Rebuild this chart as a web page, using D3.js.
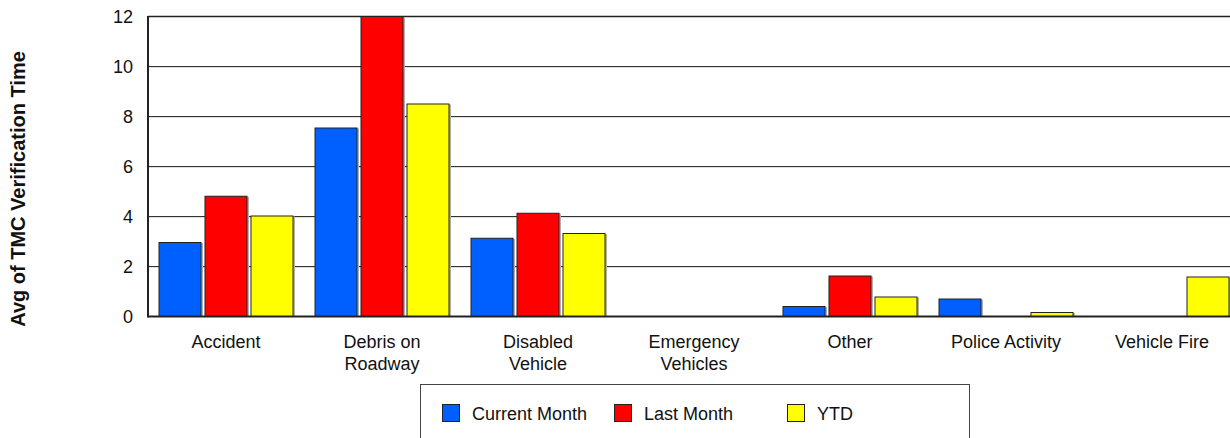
<!DOCTYPE html>
<html>
<head>
<meta charset="utf-8">
<script src="https://cdn.jsdelivr.net/npm/d3@7"></script>
<style>
  body { margin: 0; background: #fff; }
  svg { font-family: "Liberation Sans", Arial, sans-serif; display: block; }
</style>
</head>
<body>
<div id="chart"></div>
<script>
// donnees
const categories = [
    ['Accident'], ['Debris on', 'Roadway'], ['Disabled', 'Vehicle'],
    ['Emergency', 'Vehicles'], ['Other'], ['Police Activity'], ['Vehicle Fire']
];
const series = ['Current Month', 'Last Month', 'YTD'];
const currentMonth = [2.96, 7.54, 3.13, 0, 0.40, 0.70, 0];
const lastMonth = [4.81, 12, 4.13, 0, 1.62, 0, 0];
const ytd = [4.02, 8.5, 3.32, 0, 0.78, 0.16, 1.58];
const yTicks = [0, 2, 4, 6, 8, 10, 12];

const colors = ['#0060ff', '#ff0000', '#ffff00'];
const values = [currentMonth, lastMonth, ytd];

const width = 1230, height = 438;
const plot = { left: 148, right: 1240, top: 16, bottom: 316 };

const svg = d3.select('#chart').append('svg')
    .attr('width', width)
    .attr('height', height);

const keys = categories.map(c => c.join(' '));

const x0 = d3.scaleBand()
    .domain(keys)
    .range([plot.left, plot.right]);

const x1 = d3.scaleBand()
    .domain(series)
    .range([10.5, x0.bandwidth() - 10.5])
    .paddingInner(0.065);

const y = d3.scaleLinear()
    .domain([0, 12])
    .range([plot.bottom, plot.top]);

// lignes de la grille
const grid = svg.append('g');
grid.selectAll('line.shadow')
    .data(yTicks.filter(t => t > 0 && t < 12))
    .enter().append('line')
    .attr('x1', plot.left).attr('x2', width)
    .attr('y1', d => y(d) + 1).attr('y2', d => y(d) + 1)
    .attr('stroke', '#c0c0c0').attr('stroke-width', 1);
grid.selectAll('line.main')
    .data(yTicks.filter(t => t > 0))
    .enter().append('line')
    .attr('x1', plot.left).attr('x2', width)
    .attr('y1', d => y(d) + 0.5).attr('y2', d => y(d) + 0.5)
    .attr('stroke', d => d === 12 ? '#222' : '#333')
    .attr('stroke-width', d => d === 12 ? 1.5 : 1);

// barres
const groups = svg.append('g')
    .selectAll('g')
    .data(keys)
    .enter().append('g')
    .attr('transform', d => `translate(${x0(d)},0)`);

groups.selectAll('rect.shadow')
    .data((d, i) => series.map((s, j) => ({ s, v: values[j][i] })))
    .enter().append('rect')
    .filter(d => d.v > 0)
    .attr('x', d => x1(d.s) + 1.5)
    .attr('y', d => y(d.v) + 1)
    .attr('width', x1.bandwidth())
    .attr('height', d => y(0) - y(d.v) - 1)
    .attr('fill', '#b0b0b0');

groups.selectAll('rect.bar')
    .data((d, i) => series.map((s, j) => ({ s, v: values[j][i], c: colors[j] })))
    .enter().append('rect')
    .filter(d => d.v > 0)
    .attr('x', d => x1(d.s) + 0.5)
    .attr('y', d => y(d.v) + 0.5)
    .attr('width', x1.bandwidth() - 1)
    .attr('height', d => y(0) - y(d.v))
    .attr('fill', d => d.c)
    .attr('stroke', '#222')
    .attr('stroke-width', 1);

// axes
svg.append('line')
    .attr('x1', plot.left).attr('x2', width)
    .attr('y1', plot.bottom + 0.5).attr('y2', plot.bottom + 0.5)
    .attr('stroke', '#222').attr('stroke-width', 2);
svg.append('line')
    .attr('x1', plot.left).attr('x2', plot.left)
    .attr('y1', plot.top).attr('y2', plot.bottom + 1.5)
    .attr('stroke', '#222').attr('stroke-width', 2);

svg.append('g')
    .selectAll('text')
    .data(yTicks)
    .enter().append('text')
    .attr('x', 133)
    .attr('y', d => y(d) + 7)
    .attr('text-anchor', 'end')
    .attr('font-size', 18)
    .attr('fill', '#111')
    .text(d => d);

// etiquettes des categories
const labels = svg.append('g')
    .selectAll('text')
    .data(categories)
    .enter().append('text')
    .attr('x', (d, i) => x0(keys[i]) + x0.bandwidth() / 2)
    .attr('y', 348)
    .attr('text-anchor', 'middle')
    .attr('font-size', 18)
    .attr('fill', '#111');
labels.selectAll('tspan')
    .data(d => d)
    .enter().append('tspan')
    .attr('x', function () { return d3.select(this.parentNode).attr('x'); })
    .attr('dy', (d, i) => i === 0 ? 0 : 22)
    .text(d => d);

// titre de l'axe y
svg.append('text')
    .attr('transform', 'translate(25,189) rotate(-90)')
    .attr('text-anchor', 'middle')
    .attr('font-size', 20)
    .attr('font-weight', 'bold')
    .attr('fill', '#111')
    .text('Avg of TMC Verification Time');

// legende
svg.append('rect')
    .attr('x', 420.5).attr('y', 384.5)
    .attr('width', 549).attr('height', 60)
    .attr('fill', 'none')
    .attr('stroke', '#444');

const legendX = [442, 614, 787];
const legend = svg.append('g')
    .selectAll('g')
    .data(series)
    .enter().append('g')
    .attr('transform', (d, i) => `translate(${legendX[i]},404)`);
legend.append('rect')
    .attr('x', 0.5).attr('y', 0.5)
    .attr('width', 17).attr('height', 17)
    .attr('fill', (d, i) => colors[i])
    .attr('stroke', '#222');
legend.append('text')
    .attr('x', 30)
    .attr('y', 16)
    .attr('font-size', 18)
    .attr('fill', '#111')
    .text(d => d);
</script>
</body>
</html>
